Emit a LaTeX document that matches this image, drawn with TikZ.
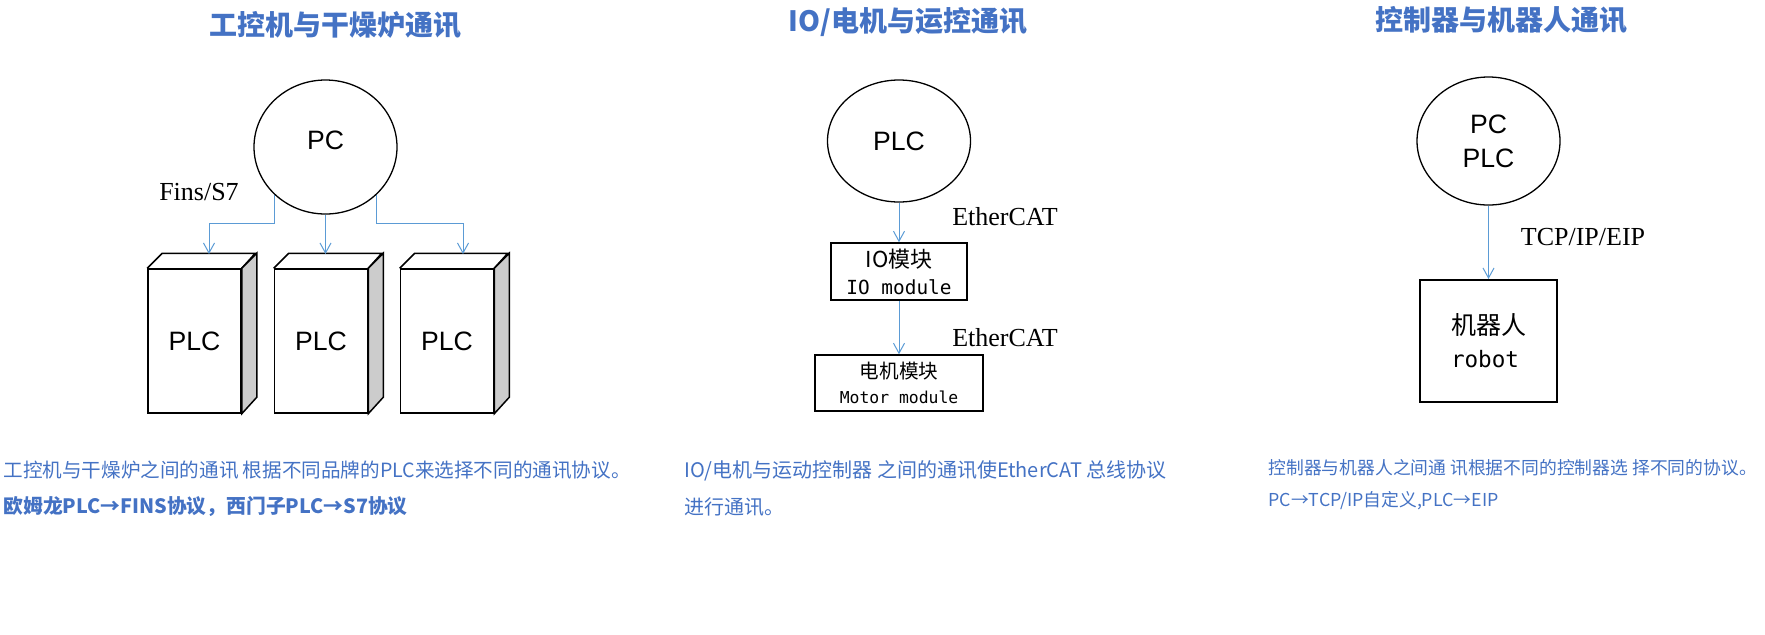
\documentclass[tikz,border=0pt]{standalone}
\usepackage{fontspec}
\usetikzlibrary{shapes.geometric,arrows.meta}
\setmainfont{Liberation Sans}
\newfontfamily\cjk{Noto Sans CJK SC}
\newfontfamily\songti{Liberation Serif}
\newfontfamily\mono{DejaVu Sans Mono}
\definecolor{headblue}{HTML}{4472C4}
\definecolor{wireblue}{HTML}{5B9BD5}
\definecolor{sidegray}{HTML}{CCCCCC}

\begin{document}
\begin{tikzpicture}[x=0.5pt,y=-0.5pt,
  heading/.style={headblue,inner sep=0pt,font=\cjk\bfseries\fontsize{14}{16}\selectfont},
  note/.style={headblue,anchor=west,inner sep=0pt,font=\cjk\fontsize{10}{12}\selectfont},
  oval/.style={ellipse,draw,line width=0.65pt,minimum width=71.5pt,minimum height=#1,inner sep=0pt,align=center,font=\fontsize{13.3}{17}\selectfont},
  oval/.default=64pt,
  plcbox/.style={draw,line width=0.75pt,minimum width=46.5pt,minimum height=72pt,inner sep=0pt,font=\fontsize{13.3}{16}\selectfont},
  modbox/.style={draw,line width=0.75pt,inner sep=0pt,align=center},
  proto/.style={inner sep=0pt,font=\songti\fontsize{13}{15}\selectfont},
  conn/.style={wireblue,line width=0.5pt,-{Straight Barb[length=5pt,width=5.5pt,line width=0.5pt]}}]

\useasboundingbox (0,0) rectangle (1765,634);

\node[heading] (t1) at (335,25) {工控机与干燥炉通讯};
\node[heading] (t2) at (908,22) {IO/电机与运控通讯};
\node[heading] (t3) at (1501,20) {控制器与机器人通讯};

% ipc and dryers
\node[oval=67pt] (pc) at (325.5,147) {\raisebox{7pt}{PC}};
\foreach \n/\x in {1/194.5,2/321,3/447}{
  \node[plcbox] (plc\n) at (\x,341) {PLC};
  \draw[line width=0.75pt] (plc\n.north west) -- ++(15,-15) -- ++(93,0) -- (plc\n.north east);
  \filldraw[fill=sidegray,line width=0.75pt] (plc\n.north east) -- ++(15,-15) -- ++(0,144) -- (plc\n.south east) -- cycle;
}
\coordinate (in1) at (209,254);
\coordinate (in2) at (325.5,254);
\coordinate (in3) at (463,254);
\draw[conn] (pc.223) -- ++(0,29) -| (in1);
\draw[conn] (pc.south) -- (in2);
\draw[conn] (pc.317) -- ++(0,29) -| (in3);
\node[proto] (fins) at (199,192) {Fins/S7};

% io and motion
\node[oval=61pt] (plc) at (899,141) {PLC};
\node[modbox,minimum width=68pt,minimum height=28.5pt,font=\cjk\fontsize{11}{13.5}\selectfont] (io) at (899,271.5) {IO模块\\{\mono\fontsize{9.7}{13.5}\selectfont IO module}};
\node[modbox,minimum width=84pt,minimum height=28pt,font=\cjk\fontsize{9.8}{12.5}\selectfont] (motor) at (899,383) {电机模块\\{\mono\fontsize{8.2}{12.5}\selectfont Motor module}};
\draw[conn] (plc.south) -- (io.north);
\draw[conn] (io.south) -- (motor.north);
\node[proto] (ecat1) at (1005,217) {EtherCAT};
\node[proto] (ecat2) at (1005,338) {EtherCAT};

% controller and robot
\node[oval=64pt] (ctrl) at (1488.5,141) {PC\\PLC};
\node[modbox,line width=1pt,minimum width=68.5pt,minimum height=61pt,align=left,font=\cjk\fontsize{12.5}{16.5}\selectfont] (robot) at (1488.5,341) {机器人\\{\mono\fontsize{11.3}{16.5}\selectfont robot}};
\draw[conn] (ctrl.south) -- (robot.north);
\node[proto] (tcp) at (1583,237) {TCP/IP/EIP};

\node[note,font=\cjk\fontsize{9.8}{12}\selectfont] (n1a) at (3,470) {工控机与干燥炉之间的通讯 根据不同品牌的PLC来选择不同的通讯协议。};
\node[note,font=\cjk\bfseries\fontsize{9.9}{12}\selectfont] (n1b) at (3,506) {欧姆龙PLC→FINS协议，西门子PLC→S7协议};
\node[note] (n2a) at (684,471) {IO/电机与运动控制器 之间的通讯使EtherCAT 总线协议};
\node[note] (n2b) at (684,507) {进行通讯。};
\node[note,font=\cjk\fontsize{8.9}{11}\selectfont] (n3a) at (1268,468) {控制器与机器人之间通 讯根据不同的控制器选 择不同的协议。};
\node[note,font=\cjk\fontsize{8.9}{11}\selectfont] (n3b) at (1268,501) {PC→TCP/IP自定义,PLC→EIP};
\end{tikzpicture}
\end{document}
